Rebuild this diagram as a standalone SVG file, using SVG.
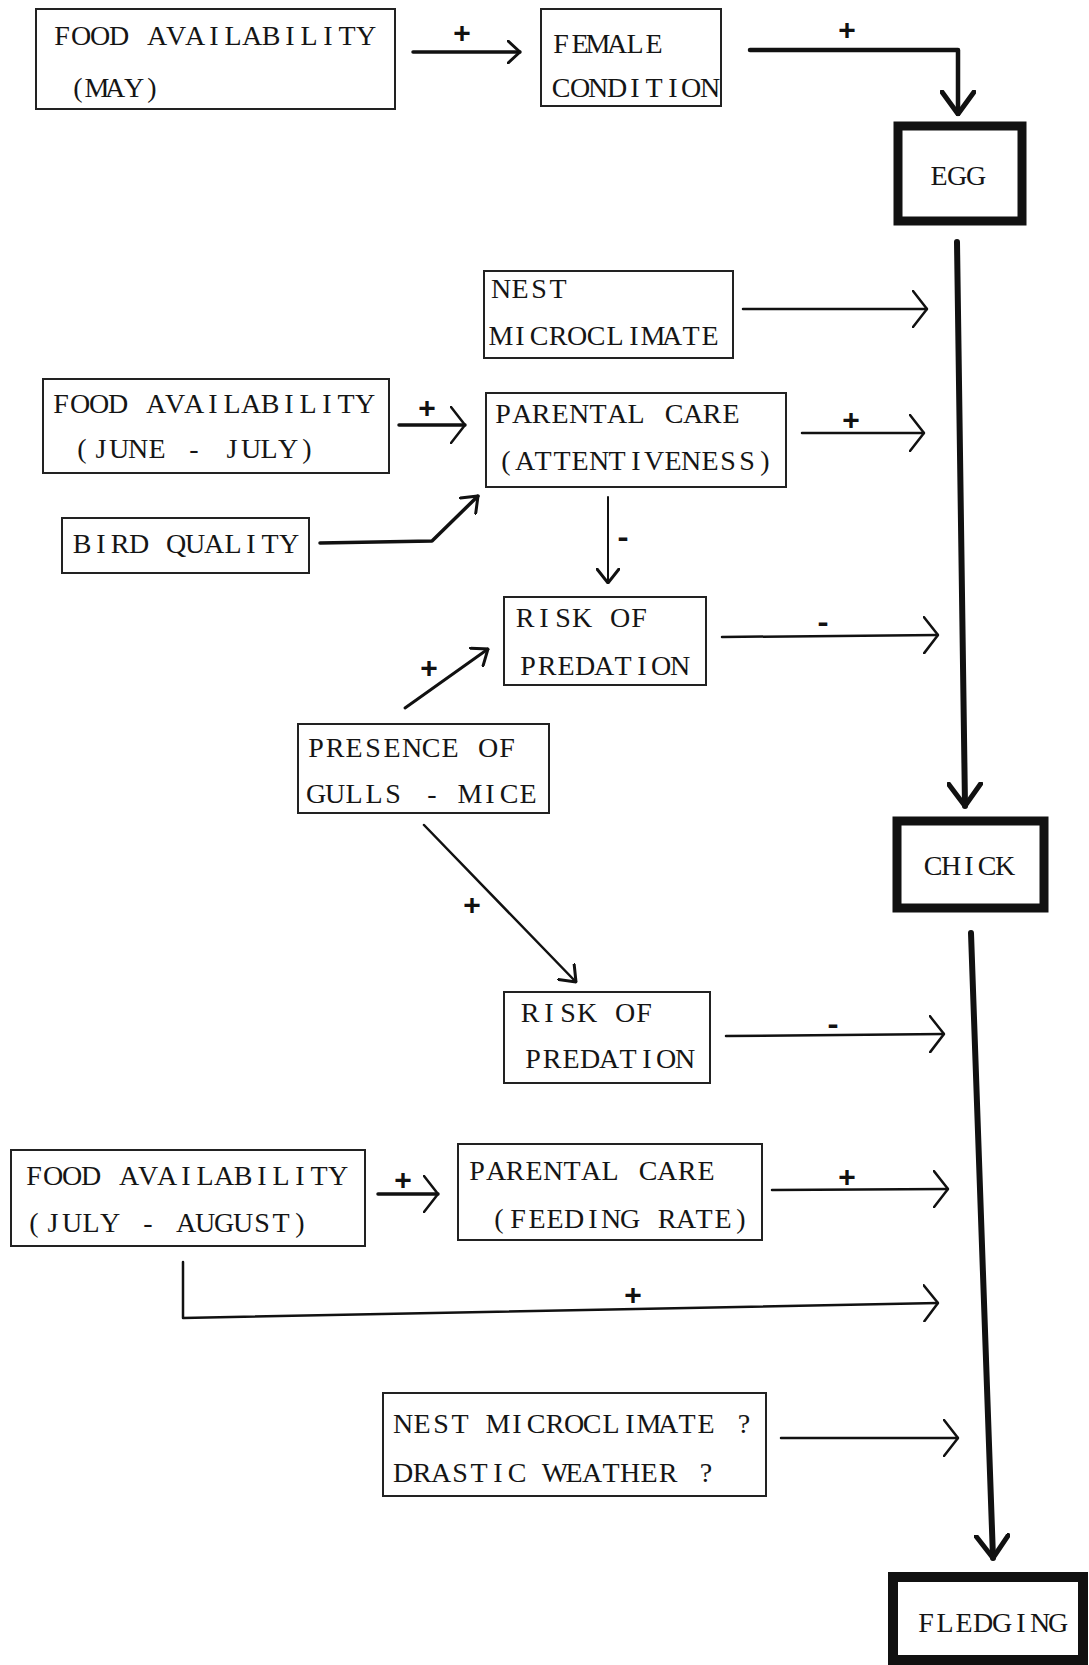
<svg xmlns="http://www.w3.org/2000/svg" width="1089" height="1665" viewBox="0 0 1089 1665">
<style>
.box{fill:#fff;stroke:#222;stroke-width:2}
.thick{fill:#fff;stroke:#111;stroke-width:9}
.t{font-family:"Liberation Serif","Times New Roman",serif;font-size:28px;fill:#151515;text-anchor:middle}
.s{font-family:"Liberation Mono","Courier New",monospace;font-size:30px;font-weight:bold;fill:#111;text-anchor:middle}
.c{fill:none;stroke:#111;stroke-width:2.5;stroke-linecap:round;stroke-linejoin:round}
</style>
<defs>
<marker id="open" viewBox="0 0 16 38" refX="15" refY="19" markerWidth="16" markerHeight="38" markerUnits="userSpaceOnUse" orient="auto">
<path d="M1,1 L15,19 L1,37" fill="none" stroke="#111" stroke-width="2.5" stroke-linecap="round"/>
</marker>
<marker id="openS" viewBox="0 0 14 24" refX="13" refY="12" markerWidth="14" markerHeight="24" markerUnits="userSpaceOnUse" orient="auto">
<path d="M1,1 L13,12 L1,23" fill="none" stroke="#111" stroke-width="3" stroke-linecap="round"/>
</marker>
<marker id="small" viewBox="0 0 16 24" refX="15" refY="12" markerWidth="16" markerHeight="24" markerUnits="userSpaceOnUse" orient="auto">
<path d="M1,1 L15,12 L1,23" fill="none" stroke="#111" stroke-width="3" stroke-linecap="round"/>
</marker>
<marker id="thick" viewBox="0 0 26 36" refX="24" refY="18" markerWidth="26" markerHeight="36" markerUnits="userSpaceOnUse" orient="auto">
<path d="M2,2 L24,18 L2,34" fill="none" stroke="#111" stroke-width="5" stroke-linecap="round"/>
</marker>
</defs>

<g id="connectors">
<path class="c" d="M413,52 L520,52" style="stroke-width:3.5" marker-end="url(#openS)"/>
<path class="c" d="M750,50 L958,50 L958,114" style="stroke-width:4.5" marker-end="url(#thick)"/>
<path class="c" d="M957,242 L965,806" style="stroke-width:6" marker-end="url(#thick)"/>
<path class="c" d="M971,933 L993,1558" style="stroke-width:6" marker-end="url(#thick)"/>
<path class="c" d="M743,309 L927,309" marker-end="url(#open)"/>
<path class="c" d="M399,425 L465,425" style="stroke-width:3.5" marker-end="url(#open)"/>
<path class="c" d="M802,433 L924,433" marker-end="url(#open)"/>
<path class="c" d="M320,543 L432,541 L478,496" style="stroke-width:3.5" marker-end="url(#small)"/>
<path class="c" d="M608,497 L608,583" style="stroke-width:2" marker-end="url(#small)"/>
<path class="c" d="M722,637 L938,635" marker-end="url(#open)"/>
<path class="c" d="M405,708 L488,649" style="stroke-width:3" marker-end="url(#small)"/>
<path class="c" d="M424,825 L576,982" marker-end="url(#small)"/>
<path class="c" d="M726,1036 L944,1034" marker-end="url(#open)"/>
<path class="c" d="M378,1194 L438,1194" style="stroke-width:3.5" marker-end="url(#open)"/>
<path class="c" d="M772,1190 L948,1189" marker-end="url(#open)"/>
<path class="c" d="M183,1262 L183,1318 L938,1303" marker-end="url(#open)"/>
<path class="c" d="M781,1438 L958,1438" marker-end="url(#open)"/>
<text class="s" x="462" y="43">+</text>
<text class="s" x="847" y="40">+</text>
<text class="s" x="427" y="418">+</text>
<text class="s" x="851" y="430">+</text>
<text class="s" x="623" y="547">-</text>
<text class="s" x="823" y="632">-</text>
<text class="s" x="429" y="678">+</text>
<text class="s" x="472" y="915">+</text>
<text class="s" x="833" y="1034">-</text>
<text class="s" x="403" y="1190">+</text>
<text class="s" x="847" y="1187">+</text>
<text class="s" x="633" y="1305">+</text>
</g>

<g id="food-may">
<rect class="box" x="36" y="9" width="359" height="100"/>
<text class="t" x="62 81 100 119 138 157 176 195 214 233 252 271 290 309 328 347 366" y="45">FOOD AVAILABILITY</text>
<text class="t" x="78 97 115 134 152" y="97">(MAY)</text>
</g>
<g id="female-condition">
<rect class="box" x="541" y="9" width="180" height="97"/>
<text class="t" x="561 580 598 617 635 654" y="53">FEMALE</text>
<text class="t" x="561 580 598 617 635 654 673 691 710" y="97">CONDITION</text>
</g>
<g id="egg">
<rect class="thick" x="898" y="126" width="124" height="95"/>
<text class="t" x="939 957 976" y="185">EGG</text>
</g>
<g id="nest-microclimate">
<rect class="box" x="484" y="271" width="249" height="87"/>
<text class="t" x="501 520 539 558" y="298">NEST</text>
<text class="t" x="501 520 539 558 577 596 615 634 653 672 691 710" y="345">MICROCLIMATE</text>
</g>
<g id="food-june-july">
<rect class="box" x="43" y="379" width="346" height="94"/>
<text class="t" x="61 80 99 118 137 156 175 194 213 232 251 270 289 308 327 346 365" y="413">FOOD AVAILABILITY</text>
<text class="t" x="82 101 119 138 157 176 194 213 232 251 269 288 307" y="458">(JUNE - JULY)</text>
</g>
<g id="parental-care-attentiveness">
<rect class="box" x="486" y="393" width="300" height="94"/>
<text class="t" x="503 522 541 560 579 598 617 636 655 674 693 712 731" y="423">PARENTAL CARE</text>
<text class="t" x="506 525 543 562 580 599 617 636 654 673 691 710 728 747 765" y="470">(ATTENTIVENESS)</text>
</g>
<g id="bird-quality">
<rect class="box" x="62" y="518" width="247" height="55"/>
<text class="t" x="82 101 120 139 157 176 195 214 233 251 270 289" y="553">BIRD QUALITY</text>
</g>
<g id="risk-predation-1">
<rect class="box" x="504" y="597" width="202" height="88"/>
<text class="t" x="525 544 563 582 601 620 639" y="627">RISK OF</text>
<text class="t" x="528 547 566 585 604 623 642 661 680" y="675">PREDATION</text>
</g>
<g id="presence-gulls-mice">
<rect class="box" x="298" y="724" width="251" height="89"/>
<text class="t" x="316 335 354 373 392 412 431 450 469 488 507" y="757">PRESENCE OF</text>
<text class="t" x="316 335 354 374 393 412 432 451 470 490 509 528" y="803">GULLS - MICE</text>
</g>
<g id="chick">
<rect class="thick" x="897" y="821" width="147" height="87"/>
<text class="t" x="933 951 969 987 1005" y="875">CHICK</text>
</g>
<g id="risk-predation-2">
<rect class="box" x="504" y="992" width="206" height="91"/>
<text class="t" x="530 549 568 587 606 625 644" y="1022">RISK OF</text>
<text class="t" x="533 552 571 590 609 628 647 666 685" y="1068">PREDATION</text>
</g>
<g id="food-july-august">
<rect class="box" x="11" y="1150" width="354" height="96"/>
<text class="t" x="34 53 72 91 110 129 148 167 186 205 224 243 262 281 300 319 338" y="1185">FOOD AVAILABILITY</text>
<text class="t" x="34 53 72 91 110 129 148 167 186 205 224 243 262 281 300" y="1232">(JULY - AUGUST)</text>
</g>
<g id="parental-care-feeding">
<rect class="box" x="458" y="1144" width="304" height="96"/>
<text class="t" x="477 496 515 534 553 572 591 610 629 648 667 687 706" y="1180">PARENTAL CARE</text>
<text class="t" x="499 518 537 555 574 593 611 630 648 667 686 704 723 741" y="1228">(FEEDING RATE)</text>
</g>
<g id="nest-weather">
<rect class="box" x="383" y="1393" width="383" height="103"/>
<text class="t" x="403 422 441 460 479 498 517 536 555 574 592 611 630 649 668 687 706 725 744" y="1433">NEST MICROCLIMATE ?</text>
<text class="t" x="403 422 441 460 479 498 517 536 555 574 592 611 630 649 668 687 706" y="1482">DRASTIC WEATHER ?</text>
</g>
<g id="fledging">
<rect class="thick" x="893" y="1577" width="190" height="83" style="stroke-width:10"/>
<text class="t" x="926 945 964 983 1002 1021 1040 1058" y="1632">FLEDGING</text>
</g>
</svg>
